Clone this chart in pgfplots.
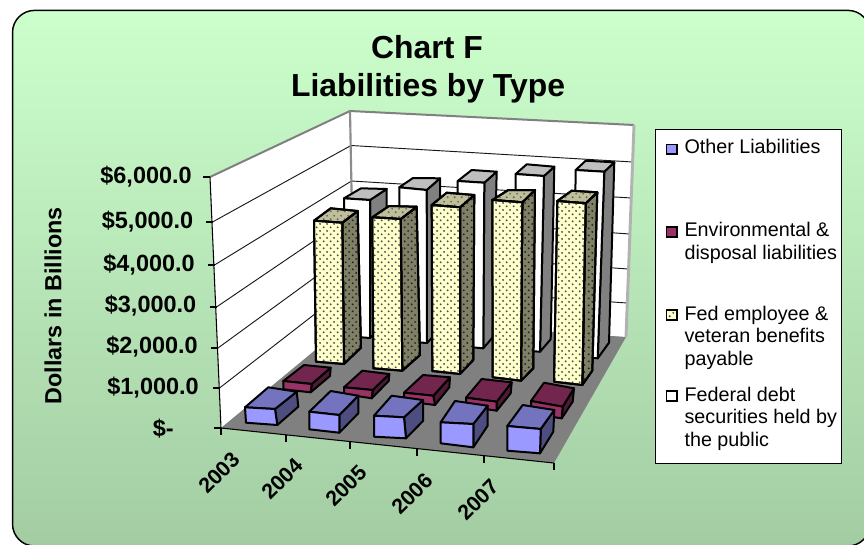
\documentclass[border=0pt]{standalone}
\usepackage{pgfplots}
\pgfplotsset{compat=1.18}
\usepackage{fontspec}
\setmainfont{Liberation Sans}
\usetikzlibrary{patterns}

% staggered dot screen of the benefits series
\pgfdeclarepatternformonly{benefitdots}{\pgfpointorigin}{\pgfqpoint{5.5pt}{5.5pt}}{\pgfqpoint{5.5pt}{5.5pt}}{%
  \pgfpathcircle{\pgfqpoint{1.37pt}{1.37pt}}{0.85pt}%
  \pgfpathcircle{\pgfqpoint{4.12pt}{4.12pt}}{0.85pt}%
  \pgfusepath{fill}}

\definecolor{otherF}{RGB}{153,153,255}
\definecolor{otherT}{RGB}{115,115,191}
\definecolor{otherS}{RGB}{77,77,128}
\definecolor{envF}{RGB}{153,51,102}
\definecolor{envT}{RGB}{115,38,77}
\definecolor{envS}{RGB}{77,26,51}
\definecolor{fedF}{RGB}{255,255,204}
\definecolor{fedT}{RGB}{191,191,153}
\definecolor{fedS}{RGB}{128,128,102}
\definecolor{debtT}{RGB}{191,191,191}
\definecolor{debtS}{RGB}{128,128,128}

\tikzset{barline/.style={draw=black,line width=1.5pt,line join=round}}

% each bar takes: front TL, TR, BR, BL, rear top L, rear top R, rear bottom R
\newcommand{\debtbar}[7]{%
  \addplot[barline,fill=debtS] coordinates {#2 #6 #7 #3} --cycle;
  \addplot[barline,fill=debtT] coordinates {#1 #5 #6 #2} --cycle;
  \addplot[barline,fill=white] coordinates {#1 #2 #3 #4} --cycle;
}
\newcommand{\envbar}[7]{%
  \addplot[barline,fill=envS] coordinates {#2 #6 #7 #3} --cycle;
  \addplot[barline,fill=envT] coordinates {#1 #5 #6 #2} --cycle;
  \addplot[barline,fill=envF] coordinates {#1 #2 #3 #4} --cycle;
}
\newcommand{\otherbar}[7]{%
  \addplot[barline,fill=otherS] coordinates {#2 #6 #7 #3} --cycle;
  \addplot[barline,fill=otherT] coordinates {#1 #5 #6 #2} --cycle;
  \addplot[barline,fill=otherF] coordinates {#1 #2 #3 #4} --cycle;
}
\newcommand{\dotbar}[7]{%
  \addplot[barline,fill=fedS,postaction={pattern=benefitdots,pattern color=black!85}] coordinates {#2 #6 #7 #3} --cycle;
  \addplot[barline,fill=fedT,postaction={pattern=benefitdots,pattern color=black!60}] coordinates {#1 #5 #6 #2} --cycle;
  \addplot[barline,fill=fedF,postaction={pattern=benefitdots,pattern color=black!70}] coordinates {#1 #2 #3 #4} --cycle;
}
\newcommand{\legkey}[3]{%
  \addplot[draw=black,line width=1.4pt,#3] coordinates {(666.5,#1) (677,#1) (677,#2) (666.5,#2)} --cycle;
}
\newcommand{\gridseg}[2]{\addplot[black!90,line width=0.7pt] coordinates {#1 #2};}
\newcommand{\vallab}[3]{\node[anchor=east,font=\bfseries\fontsize{17.6pt}{20pt}\selectfont,inner sep=0pt] at (axis cs:#1,#2) {#3};}
\newcommand{\catlab}[3]{\node[rotate=45,font=\bfseries\fontsize{16pt}{19pt}\selectfont,inner sep=0pt] at (axis cs:#1,#2) {#3};}
\newcommand{\leglab}[2]{\node[anchor=base west,font=\fontsize{14.8pt}{18pt}\selectfont,inner sep=0pt] at (axis cs:684.3,#1) {#2};}

\begin{document}
\begin{tikzpicture}
\path[use as bounding box] (0,0) rectangle (648pt,408pt);
\clip (0,0) rectangle (648pt,408pt);
\definecolor{bgtop}{RGB}{204,255,204}
\definecolor{bgbot}{RGB}{163,204,163}
\draw[black,line width=1.1pt,top color=bgtop,bottom color=bgbot,rounded corners=16.5pt]
  (9.4pt,-1.5pt) rectangle (652.5pt,400.2pt);
\begin{axis}[
  at={(0,0)},anchor=south west,
  scale only axis,width=648pt,height=408pt,
  xmin=0,xmax=864,ymin=0,ymax=544,y dir=reverse,
  hide axis,clip=false,
]
% walls and floor
\addplot[fill=white,draw=none] coordinates {(210,177) (350,111) (354,318) (221,428)} --cycle;
\addplot[fill=white,draw=none] coordinates {(350,111) (634,125) (626,337) (354,318)} --cycle;
\addplot[fill=black!50,draw=none] coordinates {(221,428) (354,318) (626,337) (554,463)} --cycle;

% gridlines, left wall then rear wall
\gridseg{(212.5,222)}{(351,145.5)}\gridseg{(351,145.5)}{(633,162)}
\gridseg{(214.5,265)}{(351.5,181)}\gridseg{(351.5,181)}{(631.5,198)}
\gridseg{(216.5,307)}{(352,215)}\gridseg{(352,215)}{(630,234)}
\gridseg{(218,348)}{(352.5,250)}\gridseg{(352.5,250)}{(628.5,269)}
\gridseg{(219.5,388)}{(353.5,284)}\gridseg{(353.5,284)}{(627,303)}

% wall edges
\addplot[black!50,line width=1.5pt] coordinates {(210,177) (350,111) (634,125)};
\addplot[black!45,line width=1.6pt] coordinates {(350,111) (354,318)};
\addplot[black!30,line width=2.2pt] coordinates {(634,125) (626,337)};
\addplot[black,line width=0.8pt] coordinates {(210,177) (221,428)};

% value axis ticks
\addplot[black,line width=0.8pt] coordinates {(203,177) (210,177)};
\addplot[black,line width=0.8pt] coordinates {(205.5,222) (212.5,222)};
\addplot[black,line width=0.8pt] coordinates {(207.5,265) (214.5,265)};
\addplot[black,line width=0.8pt] coordinates {(209.5,307) (216.5,307)};
\addplot[black,line width=0.8pt] coordinates {(211,348) (218,348)};
\addplot[black,line width=0.8pt] coordinates {(212.5,388) (219.5,388)};
\addplot[black,line width=0.8pt] coordinates {(214,428) (221,428)};

% category axis line and ticks
\addplot[black,line width=0.8pt] coordinates {(221,428) (554,463)};
\addplot[black,line width=0.8pt] coordinates {(221,428) (221,435)};
\addplot[black,line width=0.8pt] coordinates {(286,435) (286,442)};
\addplot[black,line width=0.8pt] coordinates {(350,442) (350,449)};
\addplot[black,line width=0.8pt] coordinates {(417,449) (417,456)};
\addplot[black,line width=0.8pt] coordinates {(484,456) (484,463)};
\addplot[black,line width=0.8pt] coordinates {(554,463) (554,470)};

% Federal debt securities held by the public
\debtbar{(344,198.3)}{(370,200)}{(370,338)}{(345,336)}{(361,188.3)}{(386.7,189)}{(387,323)}
\debtbar{(399.3,187.3)}{(426.7,190)}{(427,343)}{(400,341)}{(413,178)}{(440,178.3)}{(440,329)}
\debtbar{(457.7,181)}{(484.3,182.7)}{(483.3,348.3)}{(458,346)}{(471.7,170)}{(496.7,171.7)}{(492.7,337.3)}
\debtbar{(515.7,174)}{(544,176)}{(540,351.7)}{(514,350)}{(526.7,164.3)}{(554.3,166.7)}{(550.7,339.3)}
\debtbar{(575.7,170)}{(604.3,171.7)}{(597.7,358.3)}{(573,356)}{(585.7,160.7)}{(614.3,162.3)}{(609,342.7)}

% Fed employee and veteran benefits payable
\dotbar{(314,220.7)}{(342.3,222.7)}{(344,364)}{(316,361.7)}{(330.7,208.3)}{(357.7,211)}{(361,347.7)}
\dotbar{(372.3,217.3)}{(400.7,219)}{(402.3,370.7)}{(373.3,368.3)}{(389,206)}{(416.7,206.7)}{(420,355)}
\dotbar{(431.7,205)}{(460,207.3)}{(460,374)}{(432.3,371)}{(446.7,192.7)}{(474.3,195)}{(473.3,360)}
\dotbar{(492.3,200)}{(522.3,202.3)}{(521,380.7)}{(492.7,377.3)}{(508.3,190)}{(535,190)}{(533.3,368.3)}
\dotbar{(557.3,201)}{(585.7,203.3)}{(582.3,385)}{(554,381.7)}{(571.7,190.7)}{(597.3,192.3)}{(592.3,370.7)}

% Environmental and disposal liabilities
\envbar{(283.3,381)}{(311.7,384)}{(310.7,392.3)}{(283.3,389.3)}{(304,365)}{(330.7,367.7)}{(330,376)}
\envbar{(344,387.3)}{(372.7,390)}{(371.7,398.3)}{(344,394)}{(362.3,370.7)}{(389.3,374)}{(388.7,381)}
\envbar{(404,392.7)}{(433.3,395.7)}{(435,405)}{(404,401)}{(423,375)}{(450,377.3)}{(449.3,387.3)}
\envbar{(466,397.7)}{(496.7,401.7)}{(496.7,410.7)}{(466,406)}{(481.7,379)}{(511.7,382.3)}{(510.7,393.3)}
\envbar{(531,401)}{(562.7,406.7)}{(561.7,418.3)}{(531,414)}{(544,382.7)}{(574,388.3)}{(572.7,401.7)}

% Other liabilities
\otherbar{(245,407.3)}{(275,409)}{(277.3,425)}{(246,422.7)}{(268.3,387.3)}{(296.7,391.7)}{(298.3,406.7)}
\otherbar{(309.3,411.7)}{(339.3,415)}{(339.3,432.7)}{(309.3,429.3)}{(330.7,391)}{(358.3,395.7)}{(358.3,413.3)}
\otherbar{(374,415.7)}{(404,417.3)}{(406,438.3)}{(374,436.7)}{(391.7,395.7)}{(423,400)}{(423,421)}
\otherbar{(440.7,422.3)}{(473.3,424)}{(473.3,447.3)}{(440.7,443.3)}{(455,401)}{(487.7,405.7)}{(487.7,425.7)}
\otherbar{(507.3,426)}{(540.7,429)}{(540,453.3)}{(507.3,450.7)}{(522.7,405)}{(554.3,410)}{(553.3,431.7)}

% value labels
\vallab{192}{177}{\$6,000.0}
\vallab{193.5}{222}{\$5,000.0}
\vallab{195}{265}{\$4,000.0}
\vallab{196.5}{306}{\$3,000.0}
\vallab{198}{347}{\$2,000.0}
\vallab{199}{388}{\$1,000.0}
\vallab{174}{429}{\$-}

% category labels
\catlab{219}{473}{2003}
\catlab{282}{479}{2004}
\catlab{346}{486}{2005}
\catlab{412}{494}{2006}
\catlab{478}{500}{2007}

% axis title and chart title
\node[rotate=90,font=\bfseries\fontsize{17.5pt}{20pt}\selectfont,inner sep=0pt] at (axis cs:53,306) {Dollars in Billions};
\node[font=\bfseries\fontsize{23.9pt}{28pt}\selectfont,inner sep=0pt] at (axis cs:427,47) {Chart F};
\node[font=\bfseries\fontsize{23.9pt}{28pt}\selectfont,inner sep=0pt] at (axis cs:428,88) {Liabilities by Type};

% legend
\addplot[fill=white,draw=black,line width=0.8pt] coordinates {(655.7,129.3) (841.3,129.3) (841.3,463.3) (655.7,463.3)} --cycle;
\legkey{144.5}{154}{fill=otherF}
\legkey{227}{237}{fill=envF}
\legkey{310}{320}{fill=fedF,postaction={pattern=benefitdots,pattern color=black!70}}
\legkey{391}{401}{fill=white}
\leglab{153.3}{Other Liabilities}
\leglab{236.7}{Environmental \&}
\leglab{259}{disposal liabilities}
\leglab{320}{Fed employee \&}
\leglab{342.7}{veteran benefits}
\leglab{365}{payable}
\leglab{401.7}{Federal debt}
\leglab{423}{securities held by}
\leglab{446}{the public}
\end{axis}
\end{tikzpicture}
\end{document}
